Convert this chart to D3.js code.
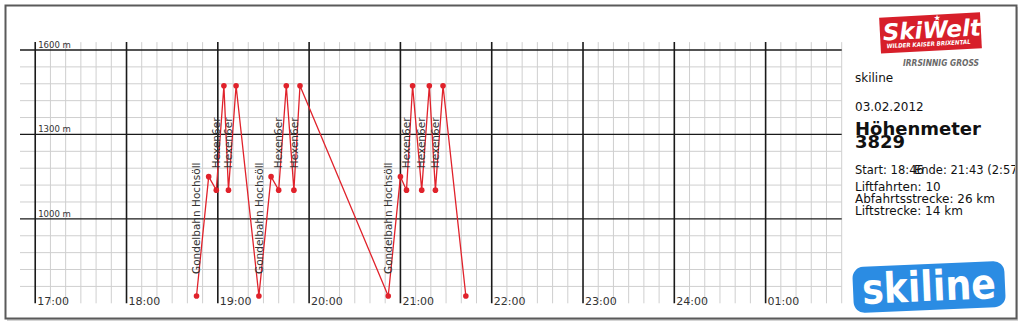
<!DOCTYPE html>
<html>
<head>
<meta charset="utf-8">
<script src="https://cdn.jsdelivr.net/npm/d3@7"></script>
<style>
    body { margin: 0; background: #fff; }
    text { font-family: "DejaVu Sans", sans-serif; }
</style>
</head>
<body>
<div id="chart"></div>
<script>
// Track points: time of day and altitude (m)
var times = ["18:46", "18:54", "18:59", "19:04", "19:07", "19:12", "19:27",
             "19:35", "19:40", "19:45", "19:50", "19:54", "20:52", "21:00",
             "21:04", "21:08", "21:14", "21:19", "21:23", "21:28", "21:43"];
var altitudes = [726, 1150, 1102, 1473, 1102, 1473, 726,
                 1150, 1102, 1473, 1102, 1473, 726, 1150,
                 1102, 1473, 1102, 1473, 1102, 1473, 726];

// Lift rides: index of the boarding point and lift name
var liftStarts = [0, 2, 4, 6, 8, 10, 12, 14, 16, 18];
var liftNames = ["Gondelbahn Hochsöll", "Hexen6er", "Hexen6er",
                 "Gondelbahn Hochsöll", "Hexen6er", "Hexen6er",
                 "Gondelbahn Hochsöll", "Hexen6er", "Hexen6er", "Hexen6er"];

var hourTicks = [17, 18, 19, 20, 21, 22, 23, 24, 25];
var altitudeTicks = [1000, 1300, 1600];

var infoTitle = "skiline",
    infoDate = "03.02.2012",
    infoHeading = "Höhenmeter",
    infoTotal = "3829",
    infoStart = "Start: 18:46",
    infoEnd = "Ende: 21:43 (2:57 h)",
    infoLines = ["Liftfahrten: 10", "Abfahrtsstrecke: 26 km", "Liftstrecke: 14 km"];

var W = 1024, H = 325;
var red = "#e0222b";

var svg = d3.select("#chart")
    .append("svg")
    .attr("width", W)
    .attr("height", H);

// Frame with a light shadow
svg.append("rect")
    .attr("x", 7).attr("y", 7)
    .attr("width", 1011).attr("height", 314)
    .attr("fill", "#d4d4d4");
svg.append("rect")
    .attr("x", 5.5).attr("y", 5.5)
    .attr("width", 1011).attr("height", 313)
    .attr("fill", "#fff")
    .attr("stroke", "#5a5a5a")
    .attr("stroke-width", 2);

function toMinutes(t) {
    var p = t.split(":");
    return +p[0] * 60 + +p[1];
}

var x = d3.scaleLinear()
    .domain([16 * 60 + 50, 25 * 60 + 50])
    .range([20, 841.7]);

var y = d3.scaleLinear()
    .domain([700, 1600])
    .range([303.3, 50]);

var plot = svg.append("g");

// Minor grid
var minorMinutes = d3.range(17 * 60, 25 * 60 + 51, 10).filter(function (m) { return m % 60 !== 0; });
var minorAlt = d3.range(760, 1600, 60).filter(function (a) { return altitudeTicks.indexOf(a) < 0; });

plot.append("g")
    .selectAll("line")
    .data(minorMinutes)
    .enter()
    .append("line")
    .attr("x1", function (d) { return x(d); })
    .attr("x2", function (d) { return x(d); })
    .attr("y1", y(1628))
    .attr("y2", y(700))
    .attr("stroke", "#cfcfcf")
    .attr("stroke-width", 1);

plot.append("g")
    .selectAll("line")
    .data(minorAlt)
    .enter()
    .append("line")
    .attr("x1", x.range()[0])
    .attr("x2", x.range()[1])
    .attr("y1", function (d) { return y(d); })
    .attr("y2", function (d) { return y(d); })
    .attr("stroke", "#cfcfcf")
    .attr("stroke-width", 1);

// Major grid
plot.append("g")
    .selectAll("line")
    .data(hourTicks)
    .enter()
    .append("line")
    .attr("x1", function (d) { return x(d * 60); })
    .attr("x2", function (d) { return x(d * 60); })
    .attr("y1", y(1628))
    .attr("y2", y(700))
    .attr("stroke", "#1a1a1a")
    .attr("stroke-width", 1.6);

plot.append("g")
    .selectAll("line")
    .data(altitudeTicks)
    .enter()
    .append("line")
    .attr("x1", x.range()[0])
    .attr("x2", x.range()[1])
    .attr("y1", function (d) { return y(d); })
    .attr("y2", function (d) { return y(d); })
    .attr("stroke", "#1a1a1a")
    .attr("stroke-width", 1.3);

// Axis labels
plot.append("g")
    .selectAll("text")
    .data(altitudeTicks)
    .enter()
    .append("text")
    .attr("x", x(17 * 60) + 3)
    .attr("y", function (d) { return y(d) - 2; })
    .attr("font-size", 8.5)
    .attr("fill", "#333")
    .text(function (d) { return d + " m"; });

plot.append("g")
    .selectAll("text")
    .data(hourTicks)
    .enter()
    .append("text")
    .attr("x", function (d) { return x(d * 60) + 2; })
    .attr("y", 305)
    .attr("font-size", 11)
    .attr("fill", "#333")
    .text(function (d) {
        var h = d > 24 ? d - 24 : d;
        return (h < 10 ? "0" : "") + h + ":00";
    });

// Track
var track = times.map(function (t, i) {
    return {minute: toMinutes(t), alt: altitudes[i]};
});

plot.append("path")
    .datum(track)
    .attr("fill", "none")
    .attr("stroke", red)
    .attr("stroke-width", 1.3)
    .attr("d", d3.line()
        .x(function (d) { return x(d.minute); })
        .y(function (d) { return y(d.alt); }));

plot.append("g")
    .selectAll("circle")
    .data(track)
    .enter()
    .append("circle")
    .attr("cx", function (d) { return x(d.minute); })
    .attr("cy", function (d) { return y(d.alt); })
    .attr("r", 2.8)
    .attr("fill", red);

// Lift names, written upwards from just above the boarding point
plot.append("g")
    .selectAll("text")
    .data(liftStarts)
    .enter()
    .append("text")
    .attr("transform", function (d) {
        return "translate(" + x(track[d].minute) + "," + (y(track[d].alt) - 22) + ") rotate(-90)";
    })
    .attr("dy", "0.35em")
    .attr("font-size", 10.5)
    .attr("fill", "#333")
    .text(function (d, i) { return liftNames[i]; });

// Right panel
var panel = svg.append("g");

panel.append("defs")
    .append("clipPath")
    .attr("id", "panel-clip")
    .append("rect")
    .attr("x", 845).attr("y", 6)
    .attr("width", 170).attr("height", 312);

// SkiWelt logo
var skiwelt = panel.append("g")
    .attr("transform", "translate(930,33) rotate(-3)");
skiwelt.append("rect")
    .attr("x", -50).attr("y", -18)
    .attr("width", 101).attr("height", 36)
    .attr("fill", "#d71f2a");
skiwelt.append("text")
    .attr("x", 2).attr("y", 5)
    .attr("text-anchor", "middle")
    .attr("font-family", "Liberation Sans")
    .attr("font-weight", "bold")
    .attr("font-style", "italic")
    .attr("font-size", 23)
    .attr("fill", "#fff")
    .text("SkiWelt");
skiwelt.append("text")
    .attr("x", 8).attr("y", -12)
    .attr("text-anchor", "middle")
    .attr("font-size", 8)
    .attr("fill", "#fff")
    .text("★");
skiwelt.append("text")
    .attr("x", -44).attr("y", 13)
    .attr("textLength", 84)
    .attr("lengthAdjust", "spacingAndGlyphs")
    .attr("font-family", "Liberation Sans")
    .attr("font-weight", "bold")
    .attr("font-style", "italic")
    .attr("font-size", 6)
    .attr("fill", "#fff")
    .text("WILDER KAISER BRIXENTAL");

panel.append("text")
    .attr("x", 903).attr("y", 66)
    .attr("textLength", 76)
    .attr("lengthAdjust", "spacingAndGlyphs")
    .attr("font-family", "Liberation Sans")
    .attr("font-weight", "bold")
    .attr("font-style", "italic")
    .attr("font-size", 9)
    .attr("fill", "#6a6a6a")
    .text("IRRSINNIG GROSS");

// Texts
var info = panel.append("g")
    .attr("clip-path", "url(#panel-clip)")
    .attr("fill", "#111");

info.append("text").attr("x", 855).attr("y", 82).attr("font-size", 12).text(infoTitle);
info.append("text").attr("x", 855).attr("y", 111).attr("font-size", 12).text(infoDate);
info.append("text").attr("x", 855).attr("y", 135).attr("font-size", 18)
    .attr("font-weight", "bold").text(infoHeading);
info.append("text").attr("x", 855).attr("y", 148).attr("font-size", 18)
    .attr("font-weight", "bold").text(infoTotal);
info.append("text").attr("x", 855).attr("y", 174).attr("font-size", 11.5).text(infoStart);
info.append("text").attr("x", 914).attr("y", 174).attr("font-size", 11.5).text(infoEnd);

info.append("g")
    .selectAll("text")
    .data(infoLines)
    .enter()
    .append("text")
    .attr("x", 855)
    .attr("y", function (d, i) { return 191 + i * 12; })
    .attr("font-size", 12)
    .text(function (d) { return d; });

// skiline logo
var skiline = panel.append("g")
    .attr("transform", "translate(929,287) rotate(-2.5)");
skiline.append("rect")
    .attr("x", -76).attr("y", -23)
    .attr("width", 152).attr("height", 46)
    .attr("rx", 11)
    .attr("fill", "#2b8ce3");
skiline.append("text")
    .attr("x", 0).attr("y", 14)
    .attr("text-anchor", "middle")
    .attr("textLength", 134)
    .attr("lengthAdjust", "spacingAndGlyphs")
    .attr("font-family", "Lato")
    .attr("font-weight", 900)
    .attr("font-size", 42)
    .attr("fill", "#fff")
    .text("skiline");
</script>
</body>
</html>
